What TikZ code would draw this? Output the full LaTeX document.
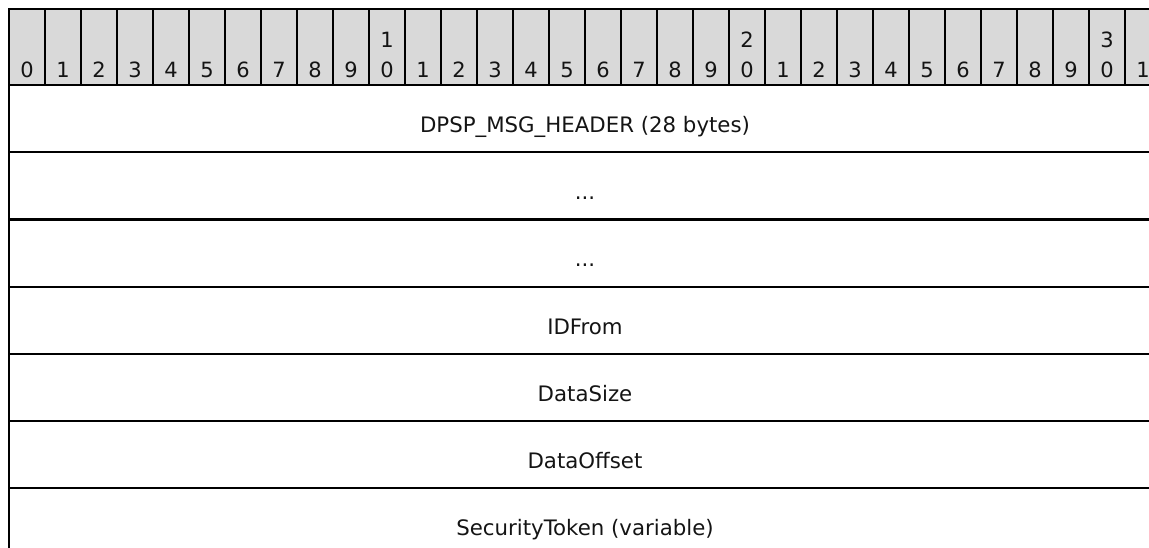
\documentclass[tikz,border=0pt]{standalone}
\usepackage{fontspec}
\setmainfont{DejaVu Sans}
\definecolor{hdr}{RGB}{217,217,217}
\definecolor{ink}{RGB}{20,20,20}
\begin{document}
\begin{tikzpicture}[x=1pt,y=-1pt,
  bit/.style={font=\fontsize{21}{30}\selectfont, anchor=base, inner sep=0pt, text=ink},
  field/.style={font=\fontsize{21.3}{30}\selectfont, anchor=base, inner sep=0pt, text=ink},
  gridline/.style={line width=2.2pt, black, line cap=rect}]
\useasboundingbox (0,0) rectangle (1149,547);
\clip (0,0) rectangle (1149,547);
% header band
\fill[hdr] (9,9) rectangle (1161,85);
\foreach \i in {0,...,32}{
  \draw[gridline] (9+36*\i,9) -- (9+36*\i,85);
}
\foreach \i in {0,...,31}{
  \pgfmathtruncatemacro{\u}{mod(\i,10)}
  \pgfmathtruncatemacro{\t}{div(\i,10)}
  \node[bit] (b\i) at (27+36*\i,77) {\u};
  \ifnum\i>9 \ifnum\u=0
    \node[bit] (t\i) at (27+36*\i,47) {\t};
  \fi\fi
}
% outer lines
\draw[gridline] (9,9) -- (1161,9);
\draw[gridline] (9,9) -- (9,560);
\foreach \k in {0,...,6}{
  \draw[gridline] (9,85+67.2*\k) -- (1161,85+67.2*\k);
}
% field labels
\foreach \k/\txt/\nm in {0/{DPSP\_MSG\_HEADER (28 bytes)}/hdrf,1/{...}/dotsa,2/{...}/dotsb,3/IDFrom/idfrom,4/DataSize/datasize,5/DataOffset/dataoffset,6/{SecurityToken (variable)}/sectoken}{
  \node[field] (\nm) at (585,85+67.2*\k+47.5) {\txt};
}
\end{tikzpicture}
\end{document}
